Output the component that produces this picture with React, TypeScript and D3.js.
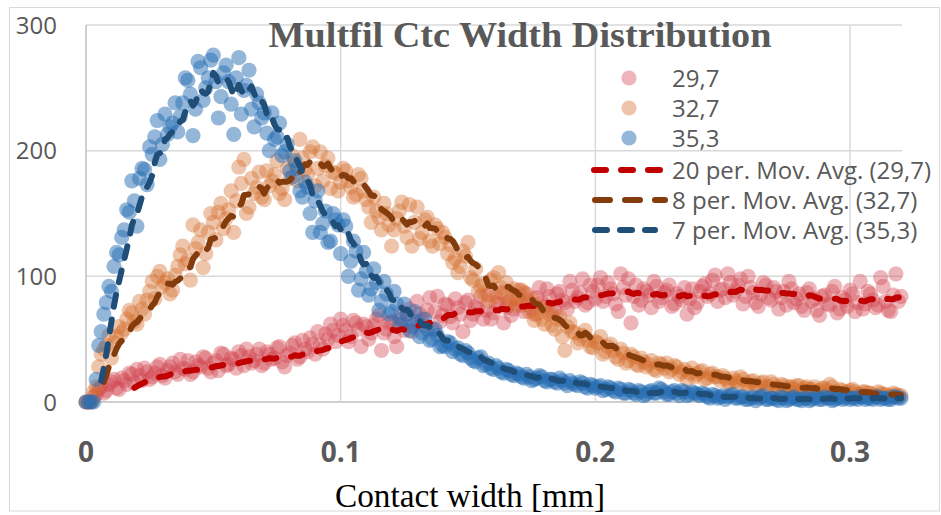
import React from "react";
import * as d3 from "d3";

// ---- data: contact width in mm, counts per 0.001 mm bin ----
// "_A" arrays hold bins at 0, 0.002, 0.004 ... ; "_B" arrays hold bins at 0.001, 0.003, 0.005 ...
const X_STEP = 0.001;
const SERIES_NAMES = ["29,7", "32,7", "35,3"];

const RED_29_7_A = [
  0, 0, 6, 12, 9, 16, 11, 19, 14, 22,
  26, 17, 24, 20, 28, 21, 25, 31, 22, 27,
  33, 24, 29, 36, 27, 31, 25, 38, 30, 34,
  40, 29, 36, 33, 42, 31, 38, 35, 44, 28,
  39, 47, 36, 42, 51, 38, 45, 54, 62, 48,
  66, 57, 52, 63, 44, 60, 55, 66, 41, 58,
  64, 44, 62, 70, 56, 80, 66, 73, 58, 84,
  69, 77, 63, 75, 56, 81, 70, 74, 66, 85,
  71, 78, 63, 80, 74, 89, 72, 80, 70, 91,
  76, 84, 73, 88, 79, 96, 80, 87, 77, 93,
  82, 99, 84, 90, 78, 102, 85, 63, 93, 81,
  88, 75, 92, 83, 89, 76, 86, 81, 70, 90,
  79, 92, 84, 97, 80, 90, 102, 85, 93, 78,
  100, 87, 76, 95, 83, 91, 74, 88, 96, 79,
  86, 73, 90, 82, 69, 85, 77, 92, 74, 81,
  89, 72, 96, 78, 86, 75, 99, 80, 72, 102,
  84,
];
const RED_29_7_B = [
  0, 4, 10, 7, 14, 18, 10, 17, 23, 15,
  21, 27, 18, 23, 30, 19, 28, 24, 34, 26,
  22, 32, 28, 35, 24, 33, 39, 29, 35, 27,
  37, 42, 31, 38, 29, 40, 34, 43, 32, 37,
  45, 34, 49, 40, 46, 56, 42, 50, 57, 53,
  61, 48, 65, 58, 62, 50, 61, 69, 55, 63,
  52, 67, 57, 74, 62, 70, 61, 83, 72, 64,
  78, 68, 82, 70, 79, 65, 76, 84, 73, 66,
  79, 87, 75, 69, 82, 77, 86, 74, 83, 79,
  90, 72, 86, 81, 74, 89, 83, 98, 79, 88,
  93, 80, 95, 86, 72, 91, 98, 84, 77, 90,
  85, 96, 80, 87, 93, 78, 84, 91, 82, 75,
  88, 94, 86, 101, 89, 83, 95, 88, 98, 84,
  91, 79, 86, 93, 81, 88, 83, 77, 90, 82,
  76, 87, 80, 73, 84, 78, 88, 71, 83, 76,
  86, 79, 74, 88, 81, 77, 92, 73, 85, 80,
];

const ORANGE_32_7_A = [
  0, 0, 12, 38, 45, 35, 52, 55, 66, 71,
  62, 74, 81, 96, 100, 92, 98, 89, 108, 124,
  113, 141, 127, 107, 135, 143, 151, 138, 153, 135,
  187, 193, 155, 166, 183, 161, 172, 181, 166, 161,
  178, 190, 209, 185, 199, 172, 199, 188, 170, 182,
  175, 184, 171, 165, 178, 161, 143, 152, 137, 150,
  124, 146, 159, 131, 124, 155, 135, 147, 124, 138,
  135, 118, 111, 103, 120, 127, 97, 88, 94, 80,
  99, 103, 86, 78, 90, 82, 87, 72, 65, 76,
  62, 70, 58, 68, 41, 63, 55, 50, 57, 44,
  48, 52, 40, 46, 36, 42, 31, 38, 30, 35,
  28, 33, 25, 30, 31, 26, 28, 24, 18, 27,
  22, 25, 19, 23, 20, 21, 16, 19, 15, 18,
  14, 17, 13, 16, 12, 14, 11, 13, 12, 10,
  13, 11, 10, 12, 9, 11, 14, 8, 10, 7,
  9, 8, 6, 8, 7, 5, 7, 6, 5, 6,
  5,
];
const ORANGE_32_7_B = [
  0, 8, 28, 42, 53, 47, 60, 58, 73, 64,
  80, 70, 88, 82, 104, 95, 86, 101, 117, 110,
  97, 122, 137, 118, 150, 129, 158, 146, 168, 160,
  174, 150, 178, 171, 163, 184, 176, 192, 170, 186,
  196, 176, 194, 181, 203, 186, 176, 194, 183, 168,
  186, 176, 163, 181, 168, 155, 163, 147, 158, 141,
  137, 152, 140, 157, 143, 130, 145, 128, 141, 126,
  131, 125, 114, 108, 116, 99, 106, 92, 85, 97,
  84, 91, 95, 82, 77, 89, 78, 82, 70, 66,
  73, 61, 66, 52, 60, 56, 47, 53, 49, 43,
  47, 38, 44, 41, 34, 39, 33, 36, 29, 32,
  30, 26, 31, 27, 24, 29, 22, 26, 23, 20,
  24, 18, 22, 20, 17, 19, 15, 17, 20, 14,
  16, 13, 15, 12, 16, 11, 14, 10, 12, 13,
  9, 12, 10, 8, 11, 9, 12, 7, 9, 8,
  10, 6, 8, 7, 5, 8, 6, 4, 7, 5,
];

const BLUE_35_3_A = [
  0, 0, 18, 56, 79, 88, 119, 131, 153, 176,
  140, 186, 173, 197, 224, 205, 213, 222, 215, 238,
  256, 212, 271, 240, 258, 276, 226, 262, 255, 213,
  274, 248, 264, 219, 238, 230, 200, 209, 222, 199,
  184, 192, 168, 175, 150, 160, 135, 152, 128, 145,
  118, 140, 112, 120, 98, 104, 90, 95, 80, 86,
  72, 78, 66, 70, 60, 64, 55, 58, 50, 53,
  45, 48, 40, 43, 37, 39, 33, 35, 29, 31,
  26, 27, 23, 25, 21, 22, 19, 20, 18, 21,
  17, 18, 16, 19, 15, 17, 14, 16, 12, 14,
  11, 13, 10, 11, 8, 10, 7, 9, 6, 8,
  6, 9, 7, 10, 6, 8, 7, 9, 5, 8,
  6, 7, 4, 6, 3, 5, 4, 6, 3, 4,
  2, 4, 3, 5, 2, 3, 1, 3, 2, 4,
  2, 3, 1, 3, 2, 4, 3, 2, 4, 3,
  2, 3, 4, 2, 3, 4, 2, 3, 2, 4,
  3,
];
const BLUE_35_3_B = [
  0, 0, 45, 70, 92, 108, 117, 137, 151, 160,
  178, 185, 203, 211, 193, 229, 219, 238, 227, 258,
  245, 233, 266, 250, 272, 255, 243, 268, 237, 258,
  229, 252, 233, 245, 226, 214, 230, 211, 196, 205,
  179, 186, 163, 171, 135, 168, 142, 127, 150, 141,
  145, 100, 128, 89, 119, 85, 106, 73, 96, 70,
  88, 62, 78, 57, 72, 52, 66, 49, 58, 44,
  44, 47, 42, 38, 41, 35, 32, 36, 30, 27,
  29, 24, 26, 22, 23, 20, 22, 17, 19, 20,
  16, 18, 15, 17, 13, 15, 13, 15, 11, 13,
  12, 9, 12, 9, 11, 7, 10, 7, 9, 5,
  8, 7, 11, 8, 6, 9, 5, 8, 6, 7,
  5, 6, 3, 5, 4, 2, 5, 3, 4, 2,
  3, 1, 4, 2, 3, 2, 4, 1, 3, 2,
  1, 3, 2, 4, 2, 3, 1, 3, 2, 4,
  3, 2, 4, 3, 2, 4, 3, 2, 4, 3,
];

const MA_PERIODS = [20, 8, 7];
const MA_LABELS = [
  "20 per. Mov. Avg. (29,7)",
  "8 per. Mov. Avg. (32,7)",
  "7 per. Mov. Avg. (35,3)",
];
const X_TICKS = [0, 0.1, 0.2, 0.3];
const X_TICK_LABELS = ["0", "0.1", "0.2", "0.3"];
const Y_TICKS = [0, 100, 200, 300];
const TITLE = "Multfil Ctc Width Distribution";
const X_TITLE = "Contact width [mm]";

// ---- styles ----
const POINT_FILLS = ["rgb(210,70,80)", "rgb(212,110,45)", "rgb(40,110,180)"];
const POINT_OPACITY = [0.4, 0.4, 0.5];
const LINE_COLORS = ["#C00000", "#843C0C", "#1F4E79"];
const LINE_DASH = ["12 15", "15 15", "12 13"];
const SANS = "'Open Sans', Lato, sans-serif";
const SERIF = "'Liberation Serif', 'DejaVu Serif', serif";

const W = 941;
const H = 515;

function interleave(a: number[], b: number[]) {
  const out: number[] = [];
  a.forEach((v, i) => {
    out.push(v);
    if (i < b.length) out.push(b[i]);
  });
  return out;
}

function movingAverage(vals: number[], k: number) {
  const out: { x: number; y: number }[] = [];
  for (let i = k - 1; i < vals.length; i++) {
    const m = d3.mean(vals.slice(i - k + 1, i + 1)) as number;
    out.push({ x: i * X_STEP, y: m });
  }
  return out;
}

export default function App() {
  const x = d3.scaleLinear().domain([0, 0.3204]).range([86, 902]);
  const y = d3.scaleLinear().domain([0, 300]).range([402, 25]);
  const series = [
    interleave(RED_29_7_A, RED_29_7_B),
    interleave(ORANGE_32_7_A, ORANGE_32_7_B),
    interleave(BLUE_35_3_A, BLUE_35_3_B),
  ];
  const line = d3
    .line<{ x: number; y: number }>()
    .x((d) => x(d.x))
    .y((d) => y(d.y));

  const grey = "#595959";
  const legendRows = [78, 108, 138];
  const legendLineRows = [170, 200, 230];
  const legendLineX = [
    [594, 662],
    [595, 665],
    [595, 655],
  ];

  return (
    <svg
      width={W}
      height={H}
      style={{ position: "absolute", left: 0, top: 0, background: "#fff" }}
    >
      <rect x={0} y={0} width={W} height={H} fill="#fff" />
      <rect x={9.5} y={7.5} width={930} height={503.5} fill="none" stroke="#d9d9d9" strokeWidth={1} />

      {/* grid */}
      {Y_TICKS.map((t) => (
        <line
          key={"gy" + t}
          x1={x(0)}
          x2={902}
          y1={y(t)}
          y2={y(t)}
          stroke={t === 0 ? "#bfbfbf" : "#d9d9d9"}
          strokeWidth={1.5}
        />
      ))}
      {X_TICKS.map((t) => (
        <line
          key={"gx" + t}
          x1={x(t)}
          x2={x(t)}
          y1={y(300)}
          y2={y(0)}
          stroke={t === 0 ? "#bfbfbf" : "#d9d9d9"}
          strokeWidth={1.5}
        />
      ))}

      {/* y tick labels */}
      {Y_TICKS.map((t) => (
        <text
          key={"ly" + t}
          x={57}
          y={y(t)}
          dy="0.36em"
          textAnchor="end"
          fontFamily={SANS}
          fontSize={24}
          fill={grey}
        >
          {t}
        </text>
      ))}

      {/* x tick labels */}
      {X_TICKS.map((t, i) => (
        <text
          key={"lx" + t}
          x={x(t)}
          y={462}
          textAnchor="middle"
          fontFamily={SANS}
          fontWeight="bold"
          fontSize={28}
          fill={grey}
        >
          {X_TICK_LABELS[i]}
        </text>
      ))}

      {/* points */}
      {series.map((vals, s) => (
        <g key={"s" + s} fill={POINT_FILLS[s]} fillOpacity={POINT_OPACITY[s]}>
          {vals.map((v, i) => (
            <circle key={i} cx={x(i * X_STEP)} cy={y(v)} r={7.6} />
          ))}
        </g>
      ))}

      {/* moving averages */}
      {series.map((vals, s) => (
        <path
          key={"ma" + s}
          d={line(movingAverage(vals, MA_PERIODS[s])) || ""}
          fill="none"
          stroke={LINE_COLORS[s]}
          strokeWidth={6}
          strokeDasharray={LINE_DASH[s]}
          strokeLinecap="round"
          strokeLinejoin="round"
        />
      ))}

      {/* title */}
      <text
        x={520}
        y={47}
        textAnchor="middle"
        fontFamily={SERIF}
        fontWeight="bold"
        fontSize={36}
        textLength={503}
        lengthAdjust="spacingAndGlyphs"
        fill={grey}
      >
        {TITLE}
      </text>

      {/* legend */}
      {SERIES_NAMES.map((n, s) => (
        <g key={"lg" + s}>
          <circle cx={629} cy={legendRows[s]} r={7.6} fill={POINT_FILLS[s]} fillOpacity={POINT_OPACITY[s]} />
          <text x={672} y={legendRows[s]} dy="0.36em" fontFamily={SANS} fontSize={24} fill={grey}>
            {n}
          </text>
        </g>
      ))}
      {MA_LABELS.map((n, s) => (
        <g key={"lm" + s}>
          <line
            x1={legendLineX[s][0]}
            x2={legendLineX[s][1]}
            y1={legendLineRows[s]}
            y2={legendLineRows[s]}
            stroke={LINE_COLORS[s]}
            strokeWidth={6}
            strokeDasharray={LINE_DASH[s]}
            strokeLinecap="round"
          />
          <text x={672} y={legendLineRows[s]} dy="0.36em" fontFamily={SANS} fontSize={24} fill={grey}>
            {n}
          </text>
        </g>
      ))}

      {/* x axis title */}
      <text
        x={470}
        y={507}
        textAnchor="middle"
        fontFamily={SERIF}
        fontSize={34}
        textLength={270}
        lengthAdjust="spacingAndGlyphs"
        fill="#000"
      >
        {X_TITLE}
      </text>
    </svg>
  );
}
